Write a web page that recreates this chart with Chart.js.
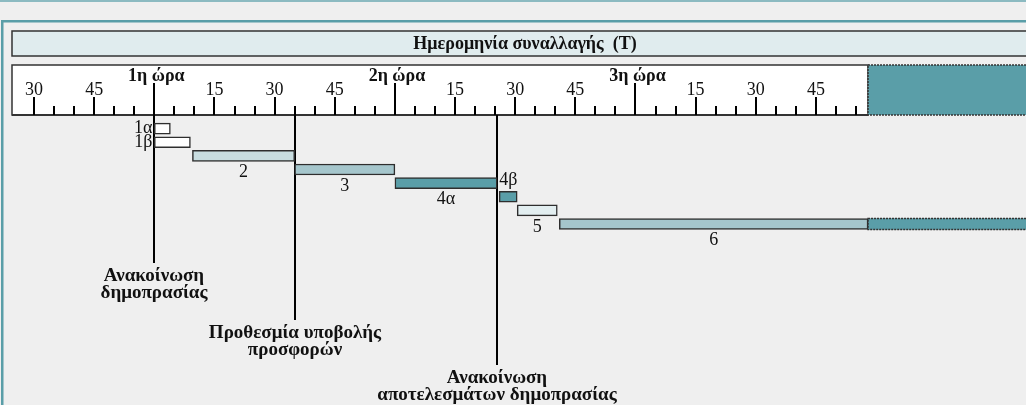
<!DOCTYPE html>
<html>
<head>
<meta charset="utf-8">
<script src="https://cdn.jsdelivr.net/npm/chart.js@4.4.0/dist/chart.umd.min.js"></script>
<style>
html, body { margin:0; padding:0; background:#efefef; }
#wrap { width:1026px; height:405px; }
</style>
</head>
<body>
<div id="wrap"><canvas id="auction" width="1026" height="405"></canvas></div>
<script>
// steps of the auction, in minutes counted from the start of the 1st hour
const steps = ['1α', '1β', '2', '3', '4α', '4β', '5', '6'];
const stepStart = [0, 0, 9.5, 35, 60, 86, 90.5, 101];
const stepEnd = [4, 9, 35, 60, 85.5, 90.5, 100.5, 178];
const stepColors = ['#ffffff', '#ffffff', '#c8dde0', '#a5c6cc', '#5a9ea8', '#5a9ea8', '#e2eef0', '#a5c6cc'];
const labelSide = ['left', 'left', 'below', 'below', 'below', 'above', 'below', 'below'];

// step 6 keeps going past the end of the ruler
const openFrom = 178;
const openTo = 240;

// ruler
const rulerFrom = -30;
const rulerTo = 175;
const rulerEnd = 178;
const minuteTicks = [-30, -15, 15, 30, 45, 75, 90, 105, 135, 150, 165];
const minuteLabels = ['30', '45', '15', '30', '45', '15', '30', '45', '15', '30', '45'];
const hourTicks = [0, 60, 120];
const hourLabels = ['1η ώρα', '2η ώρα', '3η ώρα'];
const title = 'Ημερομηνία συναλλαγής  (T)';

// milestones
const milestoneAt = [0, 35, 85.5];
const milestoneText = [
    ['Ανακοίνωση', 'δημοπρασίας'],
    ['Προθεσμία υποβολής', 'προσφορών'],
    ['Ανακοίνωση', 'αποτελεσμάτων δημοπρασίας']
];
const milestoneDrop = [263, 320, 365];

const SERIF = '"Liberation Serif", "DejaVu Serif", serif';
const TEAL = '#5a9ea8';
const INK = '#111';

//background, frame, title bar and the ruler
const framePlugin = {
    id: 'frame',
    beforeDraw(chart) {
        const ctx = chart.ctx;
        const xs = chart.scales.x;
        const W = chart.width, H = chart.height;
        ctx.save();
        ctx.fillStyle = '#efefef';
        ctx.fillRect(0, 0, W, H);
        ctx.fillStyle = '#8cbac1';
        ctx.fillRect(0, 0, W, 2);
        ctx.fillStyle = TEAL;
        ctx.fillRect(1, 20, W, 2.5);
        ctx.fillRect(1, 20, 2.5, H);

        // title bar
        ctx.fillStyle = '#e0ecee';
        ctx.fillRect(12, 31, W + 20, 25);
        ctx.strokeStyle = '#333';
        ctx.lineWidth = 1.5;
        ctx.strokeRect(12, 31, W + 20, 25);
        ctx.fillStyle = INK;
        ctx.font = 'bold 18px ' + SERIF;
        ctx.textAlign = 'center';
        ctx.textBaseline = 'middle';
        ctx.fillText(title, 525, 44);

        // ruler
        const xEnd = xs.getPixelForValue(rulerEnd);
        ctx.fillStyle = '#ffffff';
        ctx.fillRect(12, 65, xEnd - 12, 50);
        ctx.strokeStyle = '#333';
        ctx.lineWidth = 1.5;
        ctx.strokeRect(12, 65, xEnd - 12, 50);
        ctx.fillStyle = TEAL;
        ctx.fillRect(xEnd, 65, W + 20 - xEnd, 50);
        ctx.setLineDash([2, 1]);
        ctx.strokeRect(xEnd, 65, W + 20 - xEnd, 50);
        ctx.setLineDash([]);
        ctx.beginPath();
        ctx.moveTo(12, 115);
        ctx.lineTo(xEnd, 115);
        ctx.lineWidth = 2;
        ctx.stroke();

        ctx.strokeStyle = '#000';
        ctx.lineWidth = 2;
        for (let t = rulerFrom; t <= rulerTo; t += 5) {
            const x = Math.round(xs.getPixelForValue(t));
            let top = 106;
            if (t % 60 === 0) top = 83;
            else if (t % 15 === 0) top = 97;
            ctx.beginPath();
            ctx.moveTo(x, top);
            ctx.lineTo(x, 115);
            ctx.stroke();
        }
        ctx.fillStyle = INK;
        ctx.font = '18px ' + SERIF;
        ctx.textBaseline = 'alphabetic';
        minuteTicks.forEach((t, i) => {
            ctx.fillText(minuteLabels[i], xs.getPixelForValue(t), 95);
        });
        ctx.font = 'bold 18px ' + SERIF;
        hourTicks.forEach((t, i) => {
            ctx.fillText(hourLabels[i], xs.getPixelForValue(t) + 2, 81);
        });
        ctx.restore();
    },
    beforeDatasetsDraw(chart) {
        const ctx = chart.ctx;
        const xs = chart.scales.x;
        ctx.save();
        ctx.strokeStyle = '#000';
        ctx.lineWidth = 2;
        ctx.fillStyle = INK;
        ctx.font = 'bold 19px ' + SERIF;
        ctx.textAlign = 'center';
        ctx.textBaseline = 'middle';
        milestoneAt.forEach((t, i) => {
            const x = Math.round(xs.getPixelForValue(t));
            ctx.beginPath();
            ctx.moveTo(x, 115);
            ctx.lineTo(x, milestoneDrop[i]);
            ctx.stroke();
            milestoneText[i].forEach((line, k) => {
                ctx.fillText(line, x, milestoneDrop[i] + 13 + k * 17.5);
            });
        });
        ctx.restore();
    },
    afterDatasetsDraw(chart) {
        const ctx = chart.ctx;
        ctx.save();
        // dotted outline of the open-ended part
        const open = chart.getDatasetMeta(1).data[steps.length - 1];
        if (open) {
            const p = open.getProps(['x', 'y', 'base', 'height'], true);
            ctx.strokeStyle = '#333';
            ctx.lineWidth = 1.5;
            ctx.setLineDash([2, 1]);
            ctx.strokeRect(p.base, p.y - p.height / 2, p.x - p.base, p.height);
            ctx.setLineDash([]);
        }
        ctx.fillStyle = INK;
        ctx.font = '18px ' + SERIF;
        ctx.textBaseline = 'middle';
        chart.getDatasetMeta(0).data.forEach((bar, i) => {
            const p = bar.getProps(['x', 'y', 'base', 'height'], true);
            const side = labelSide[i];
            if (side === 'left') {
                ctx.textAlign = 'right';
                ctx.fillText(steps[i], p.base - 2, p.y);
            } else if (side === 'above') {
                ctx.textAlign = 'left';
                ctx.fillText(steps[i], p.base, p.y - p.height / 2 - 11);
            } else {
                ctx.textAlign = 'center';
                ctx.fillText(steps[i], (p.x + p.base) / 2, p.y + p.height / 2 + 11);
            }
        });
        ctx.restore();
    }
};

new Chart(document.getElementById('auction'), {
    type: 'bar',
    data: {
        labels: steps,
        datasets: [
            {
                label: 'steps',
                data: steps.map((s, i) => [stepStart[i], stepEnd[i]]),
                backgroundColor: stepColors,
                borderColor: '#2e2e2e',
                borderWidth: 1.5,
                borderSkipped: false,
                barThickness: 11,
                grouped: false,
                order: 1
            },
            {
                label: 'open',
                data: steps.map((s, i) => i === steps.length - 1 ? [openFrom, openTo] : null),
                backgroundColor: TEAL,
                borderWidth: 0,
                barThickness: 11,
                grouped: false,
                order: 2
            }
        ]
    },
    options: {
        indexAxis: 'y',
        responsive: false,
        animation: false,
        layout: { padding: { left: 12, right: 0, top: 121.8, bottom: 174.2 } },
        scales: {
            x: { type: 'linear', min: -35.5, max: 217.4, display: false },
            y: { type: 'category', offset: true, display: false }
        },
        plugins: {
            legend: { display: false },
            tooltip: { enabled: false }
        }
    },
    plugins: [framePlugin]
});
</script>
</body>
</html>
